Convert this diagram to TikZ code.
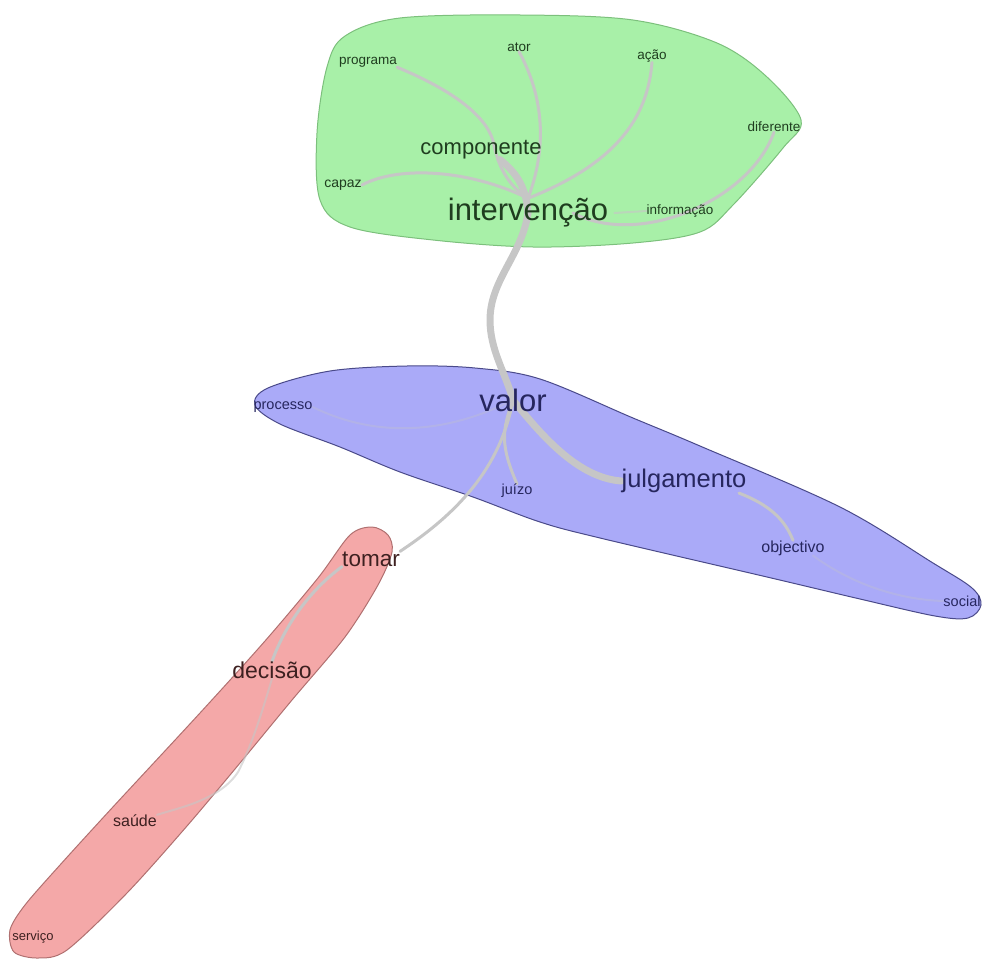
\documentclass[tikz,border=0pt]{standalone}
\usepackage{fontspec}
\setmainfont{Liberation Sans}
\usetikzlibrary{calc}
\definecolor{gfill}{HTML}{A8F0A8}
\definecolor{gline}{HTML}{7CC07C}
\definecolor{bfill}{HTML}{AAAAF8}
\definecolor{bline}{HTML}{4A4A8A}
\definecolor{rfill}{HTML}{F4A8A8}
\definecolor{rline}{HTML}{B07070}
\definecolor{gtext}{HTML}{1F3D1F}
\definecolor{btext}{HTML}{26265E}
\definecolor{rtext}{HTML}{3D2020}
\definecolor{edgec}{HTML}{C6C6C6}
\newcommand\fsz[1]{\fontsize{#1}{#1}\selectfont}
\pgfdeclarelayer{blobs}
\pgfdeclarelayer{edges}
\pgfsetlayers{blobs,edges,main}
\tikzset{
  word/.style={inner sep=0pt, anchor=center},
  gw/.style={word, text=gtext},
  bw/.style={word, text=btext},
  rw/.style={word, text=rtext},
  link/.style={draw=edgec, line width=3pt, line cap=round},
  heavy/.style={draw=edgec, line width=7pt, line cap=round},
  faint/.style={draw=edgec, opacity=0.6, line width=2pt, line cap=round},
  ghost/.style={draw=edgec, opacity=0.3, line width=2pt, line cap=round},
}
\begin{document}
\begin{tikzpicture}[x=1pt, y=-1pt]
\useasboundingbox (0,0) rectangle (982,958);

% --- green cluster words
\node[gw, font=\fsz{13.5}] (prog) at (368,62) {programa};
\node[gw, font=\fsz{13.5}] (ator) at (519,47) {ator};
\node[gw, font=\fsz{13.5}] (acao) at (652,56) {ação};
\node[gw, font=\fsz{13.5}] (dif) at (774,127) {diferente};
\node[gw, font=\fsz{22}] (comp) at (481,150) {componente};
\node[gw, font=\fsz{14}] (capaz) at (343,185) {capaz};
\node[gw, font=\fsz{31}] (interv) at (528,213) {intervenção};
\node[gw, font=\fsz{13.5}] (info) at (680,211) {informação};

% --- blue cluster words
\node[bw, font=\fsz{31}] (valor) at (513,400) {valor};
\node[bw, font=\fsz{14.5}] (proc) at (283,407) {processo};
\node[bw, font=\fsz{25.5}] (julg) at (684,481) {julgamento};
\node[bw, font=\fsz{14.5}] (juizo) at (517,491) {juízo};
\node[bw, font=\fsz{16}] (obj) at (793,548) {objectivo};
\node[bw, font=\fsz{14.5}] (social) at (962,601) {social};

% --- red cluster words
\node[rw, font=\fsz{22.5}] (tomar) at (371,559) {tomar};
\node[rw, font=\fsz{23}] (decisao) at (272,670) {decisão};
\node[rw, font=\fsz{16}] (saude) at (135,821) {saúde};
\node[rw, font=\fsz{13}] (servico) at (33,937) {serviço};

% --- cluster hulls
\begin{pgfonlayer}{blobs}
\draw[fill=gfill, draw=gline, line width=1pt]
  plot[smooth cycle, tension=0.55] coordinates {
  (317,133) (327,67) (345,36) (400,18) (520,15) (633,20) (717,43)
  (767,77) (801,120) (783,148) (733,205) (700,232) (633,243)
  (533,247) (433,240) (350,227) (320,200)};
\draw[fill=bfill, draw=bline, line width=1pt]
  plot[smooth cycle, tension=0.55] coordinates {
  (255,405) (268,388) (330,371) (407,366) (475,368) (540,379)
  (633,418) (700,446) (840,507) (933,563) (972,588) (981,605)
  (968,618) (935,616) (860,599) (767,577) (600,538) (540,522)
  (473,497) (400,472) (340,447) (280,424)};
\draw[fill=rfill, draw=rline, line width=1pt]
  plot[smooth cycle, tension=0.5] coordinates {
  (372,527) (388,535) (392,552) (378,585) (345,637) (292,700)
  (240,763) (187,826) (127,893) (67,950) (38,958) (14,952)
  (10,930) (25,905) (60,865) (112,808) (200,713) (265,641)
  (318,578) (350,535)};
\end{pgfonlayer}

% --- connectors
\begin{pgfonlayer}{edges}
% green cluster
\draw[heavy] ([xshift=19pt]comp.south) .. controls (515,172) and (526,185) .. (interv.center);
\draw[link] (prog.south east) .. controls (440,85) and (488,112) .. (494,145)
  .. controls (500,175) and (515,190) .. (interv.north);
\draw[link] (ator.south) .. controls (540,90) and (550,140) .. (interv.north);
\draw[link] (acao.south) .. controls (648,110) and (625,160) .. (interv.north);
\draw[link] (capaz.east) .. controls (400,165) and (470,170) .. (interv.north);
\draw[link] (dif.south) .. controls (750,200) and (640,248) .. ([xshift=45pt]interv.center);
\draw[faint] ([xshift=6pt]interv.east) -- (info.west);
% green to blue
\draw[heavy] (interv.center) .. controls (522,255) and (490,280) .. (490,320)
  .. controls (490,350) and (505,372) .. (valor.center);
% blue cluster
\draw[heavy] (valor.center) .. controls (545,440) and (580,478) .. (julg.west);
\draw[link] ([xshift=55pt]julg.south) .. controls (770,505) and (785,520) .. (obj.north);
\draw[link] (valor.center) .. controls (502,430) and (500,445) .. (juizo.north);
\draw[ghost] (proc.east) .. controls (380,440) and (450,432) .. (valor.center);
\draw[ghost] ([xshift=20pt]obj.south) .. controls (860,590) and (910,600) .. (social.west);
% blue to red
\draw[link] (valor.center) .. controls (500,470) and (455,515) .. (tomar.north east);
% red cluster
\draw[link] (tomar.south west) .. controls (310,590) and (285,625) .. (decisao.north);
\draw[faint] (decisao.south) .. controls (262,712) and (252,745) .. (238,772)
  .. controls (220,800) and (178,808) .. (saude.north east);
\end{pgfonlayer}
\end{tikzpicture}
\end{document}
